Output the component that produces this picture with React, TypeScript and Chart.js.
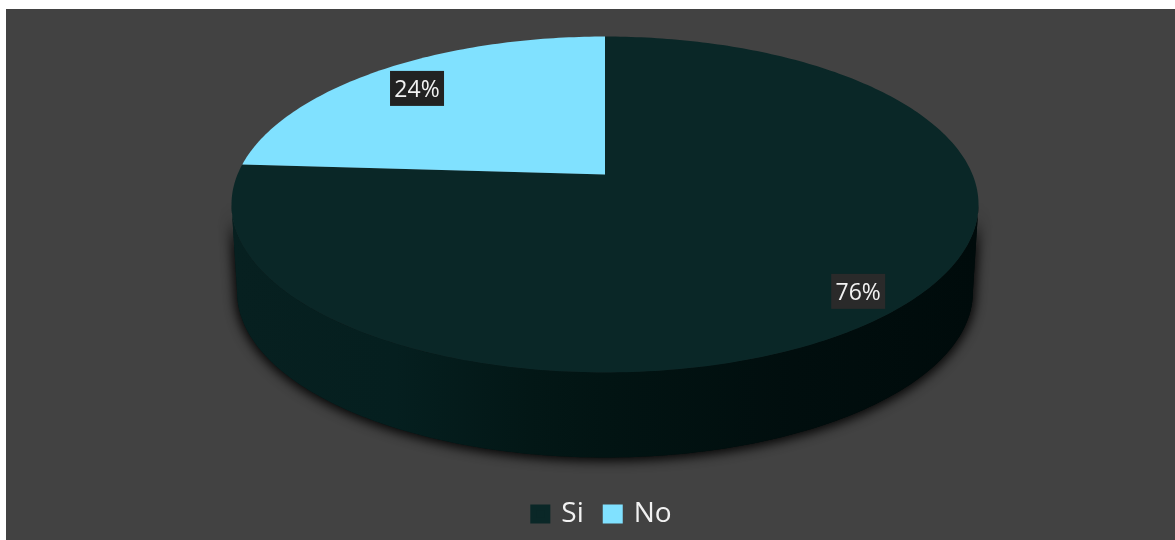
import React, { useEffect, useRef } from "react";
import { Chart, registerables } from "chart.js";

Chart.register(...registerables);

const categories = ["Si", "No"];
const shares = [76, 24];
const sliceColors = ["#0a2727", "#80e1ff"];

const FONT = "'Open Sans', 'Noto Sans', sans-serif";

// Tilted-disc projection: maps a point of the unit pie onto the screen.
const PERSPECTIVE = -0.1786;
const FLATTEN = 0.4424;
const APEX_SHIFT_X = 2.5;
const APEX_SHIFT_Y = -69;
const WALL_SCALE = 0.985;
const WALL_DROP = 88;

type Geo = { x: number; y: number; r: number };

function project(g: Geo, u: number, v: number, scale = 1, drop = 0) {
  const d = 1 + PERSPECTIVE * v;
  return {
    x: g.x + (scale * g.r * u) / d,
    y: g.y + (scale * g.r * FLATTEN * v) / d + drop,
  };
}

function arcPoint(g: Geo, a: number, scale = 1, drop = 0) {
  return project(g, Math.cos(a), Math.sin(a), scale, drop);
}

const tiltedPie = {
  id: "tiltedPie",
  beforeDatasetDraw(chart: any) {
    const ctx = chart.ctx as CanvasRenderingContext2D;
    const arcs = chart.getDatasetMeta(0).data as any[];
    const first = arcs[0];
    const g: Geo = {
      x: first.x + APEX_SHIFT_X,
      y: first.y + APEX_SHIFT_Y,
      r: first.outerRadius,
    };

    // Visible side wall: the part of the rim between the two silhouette points.
    const edge = Math.asin(-PERSPECTIVE);
    const nearStart = edge;
    const nearEnd = Math.PI - edge;
    const steps = 160;
    const trace = (from: number, to: number) => {
      ctx.beginPath();
      for (let i = 0; i <= steps; i++) {
        const p = arcPoint(g, from + ((to - from) * i) / steps);
        if (i === 0) ctx.moveTo(p.x, p.y);
        else ctx.lineTo(p.x, p.y);
      }
      for (let i = steps; i >= 0; i--) {
        const p = arcPoint(g, from + ((to - from) * i) / steps, WALL_SCALE, WALL_DROP);
        ctx.lineTo(p.x, p.y);
      }
      ctx.closePath();
    };

    const left = g.x - g.r * 1.02;
    const right = g.x + g.r * 1.02;
    const shade = ctx.createLinearGradient(left, 0, right, 0);
    shade.addColorStop(0, "#072020");
    shade.addColorStop(0.22, "#051f1f");
    shade.addColorStop(0.4, "#031716");
    shade.addColorStop(0.5, "#021413");
    shade.addColorStop(0.75, "#010e0e");
    shade.addColorStop(1, "#000b0b");

    // The wall is laid down twice so its soft shadow reads as dark as it should.
    ctx.save();
    ctx.shadowColor = "rgba(0,0,0,0.8)";
    ctx.shadowBlur = 13;
    ctx.shadowOffsetY = 1;
    ctx.fillStyle = shade;
    trace(nearStart, nearEnd);
    ctx.fill();
    ctx.fill();
    ctx.restore();

    // Top face, one wedge per slice, using the angles the controller computed.
    arcs.forEach((arc, i) => {
      const span = arc.endAngle - arc.startAngle;
      const n = Math.max(2, Math.ceil(span * 60));
      ctx.beginPath();
      ctx.moveTo(g.x, g.y);
      for (let k = 0; k <= n; k++) {
        const p = arcPoint(g, arc.startAngle + (span * k) / n);
        ctx.lineTo(p.x, p.y);
      }
      ctx.closePath();
      ctx.fillStyle = sliceColors[i];
      ctx.fill();
    });

    // Percentage tags.
    ctx.font = `23px ${FONT}`;
    ctx.textAlign = "center";
    ctx.textBaseline = "middle";
    arcs.forEach((arc, i) => {
      const mid = (arc.startAngle + arc.endAngle) / 2;
      const reach = i === 0 ? 0.865 : 0.84;
      const c = arcPoint(g, mid, reach);
      const tx = c.x + (i === 0 ? 3 : -1);
      const ty = c.y + (i === 0 ? -1 : 2);
      const text = `${shares[i]}%`;
      const w = 54;
      const h = 35;
      ctx.fillStyle = i === 0 ? "#2a2a2a" : "#222222";
      ctx.fillRect(tx - w / 2, ty - h / 2, w, h);
      ctx.fillStyle = "#f2f2f2";
      ctx.fillText(text, tx, ty + 2);
    });
    return false;
  },
};

export default function App() {
  const ref = useRef<HTMLCanvasElement>(null);

  useEffect(() => {
    const chart = new Chart(ref.current!, {
      type: "pie",
      data: {
        labels: categories,
        datasets: [
          {
            data: shares,
            backgroundColor: sliceColors,
            borderWidth: 0,
            radius: 367.5,
          },
        ],
      },
      options: {
        responsive: false,
        animation: false,
        events: [],
        layout: { padding: { left: 24, right: 0, top: 0, bottom: 2 } },
        plugins: {
          tooltip: { enabled: false },
          title: { display: false },
          legend: {
            position: "bottom",
            labels: {
              boxWidth: 14,
              boxHeight: 13,
              padding: 22,
              color: "#f2f2f2",
              font: { family: FONT, size: 28 },
              generateLabels: (c: any) =>
                (Chart.overrides.pie.plugins.legend.labels as any)
                  .generateLabels(c)
                  .map((item: any) => ({
                    ...item,
                    strokeStyle: item.fillStyle,
                    lineWidth: 6,
                  })),
            },
          },
        },
      },
      plugins: [tiltedPie],
    });
    return () => chart.destroy();
  }, []);

  return (
    <div
      style={{
        position: "absolute",
        left: 6,
        top: 9,
        width: 1169,
        height: 531,
        background: "#424242",
        overflow: "hidden",
      }}
    >
      <canvas ref={ref} width={1169} height={531} style={{ display: "block" }} />
    </div>
  );
}
